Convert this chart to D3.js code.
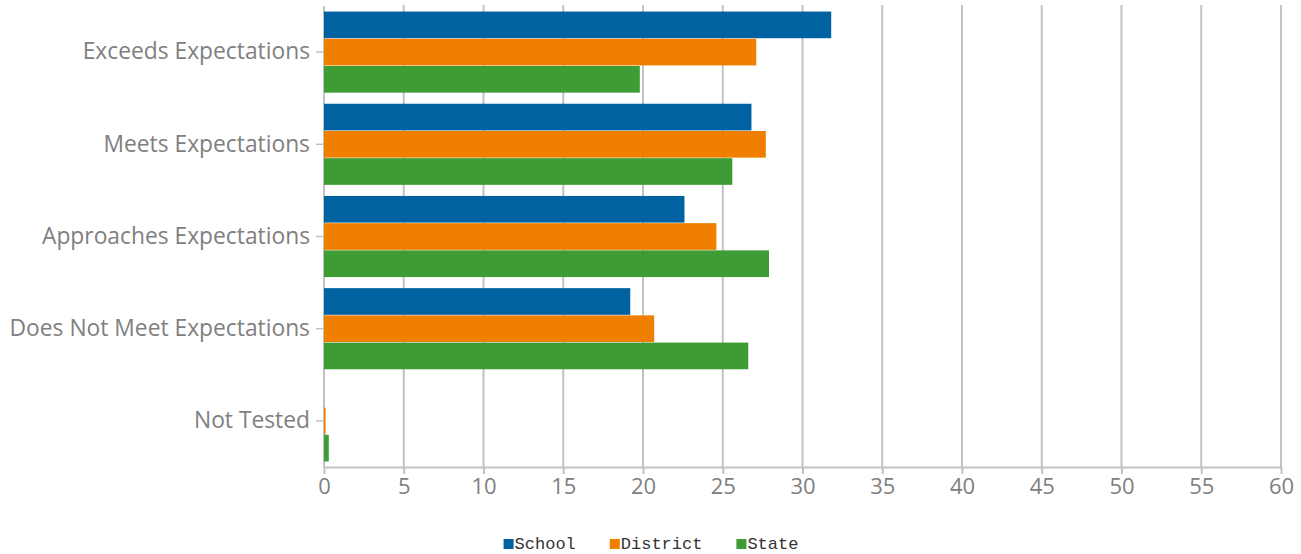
<!DOCTYPE html>
<html><head><meta charset="utf-8">
<script src="https://cdn.jsdelivr.net/npm/d3@7"></script>
<style>body{margin:0;background:#fff}svg{display:block}</style>
</head><body>
<svg id="c" width="1301" height="554"></svg>
<script>
const categories = ["Exceeds Expectations","Meets Expectations","Approaches Expectations","Does Not Meet Expectations","Not Tested"];
const seriesNames = ["School","District","State"];
const school   = [31.8, 26.8, 22.6, 19.2, 0];
const district = [27.1, 27.7, 24.6, 20.7, 0.1];
const state    = [19.8, 25.6, 27.9, 26.6, 0.3];
const xTicks = [0,5,10,15,20,25,30,35,40,45,50,55,60];
const colors = ["#0062a0","#f07f00","#3e9c35"];

const values = [school, district, state];
const svg = d3.select("#c");
const m = {left:324, right:1281, top:6, bottom:467};
const x = d3.scaleLinear().domain([0,60]).range([m.left, m.right]);
const y = d3.scaleBand().domain(categories).range([m.top, m.bottom]).paddingInner(0).paddingOuter(0);
const inner = d3.scaleBand().domain(seriesNames).range([5, y.bandwidth()-5]).padding(0.02);
const gray = "#c2c2c2", txt = "#808080";

// gridlines
svg.append("g").selectAll("line").data(xTicks.slice(1)).join("line")
  .attr("x1", d=>x(d)).attr("x2", d=>x(d)).attr("y1", m.top-1).attr("y2", m.bottom)
  .attr("stroke", gray).attr("stroke-width", 2);

// y axis line
svg.append("line").attr("x1", x(0)).attr("x2", x(0)).attr("y1", m.top).attr("y2", m.bottom)
  .attr("stroke", gray).attr("stroke-width", 2);

// bars
const g = svg.append("g");
categories.forEach((c, ci) => {
  seriesNames.forEach((s, si) => {
    const v = values[si][ci];
    if (v <= 0) return;
    g.append("rect")
      .attr("x", x(0)).attr("y", y(c) + inner(s))
      .attr("width", Math.max(1, x(v) - x(0))).attr("height", inner.bandwidth())
      .attr("fill", colors[si]);
  });
});

// x axis
const xa = svg.append("g").attr("transform", `translate(0,${m.bottom})`)
  .call(d3.axisBottom(x).tickValues(xTicks).tickSize(7).tickSizeOuter(0));
xa.select(".domain").attr("stroke", gray).attr("stroke-width", 2);
xa.selectAll(".tick line").attr("stroke", gray).attr("stroke-width", 2);
xa.selectAll(".tick text").attr("fill", txt).attr("font-family", "'Open Sans', sans-serif")
  .attr("font-size", 22).attr("dy", "0.78em");

// y axis
const ya = svg.append("g").attr("transform", `translate(${m.left},0)`)
  .call(d3.axisLeft(y).tickSize(8).tickPadding(6).tickSizeOuter(0));
ya.select(".domain").remove();
ya.selectAll(".tick line").attr("stroke", gray).attr("stroke-width", 1.5);
ya.selectAll(".tick text").attr("fill", txt).attr("font-family", "'Open Sans', sans-serif")
  .attr("font-size", 22.8).attr("dy", "0.32em");

// legend
const lg = svg.append("g");
let cx = 0;
const gap = 34;
seriesNames.forEach((s, i) => {
  const it = lg.append("g");
  it.append("rect").attr("x", 0).attr("y", -10).attr("width", 10).attr("height", 10).attr("fill", colors[i]);
  const t = it.append("text").attr("x", 11).attr("y", 0).text(s)
    .attr("font-family", "'Liberation Mono', 'DejaVu Sans Mono', monospace").attr("font-size", 17).attr("fill", "#333");
  const w = 11 + t.node().getComputedTextLength();
  it.attr("transform", `translate(${cx},0)`);
  cx += w + gap;
});
const total = cx - gap;
lg.attr("transform", `translate(${651 - total/2},549)`);
</script>
</body></html>
